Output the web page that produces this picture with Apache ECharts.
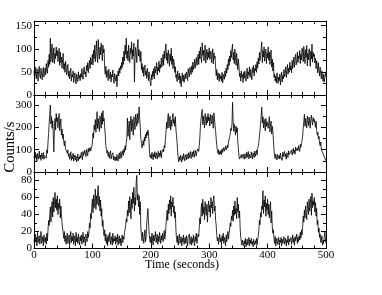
<!DOCTYPE html>
<html><head><meta charset="utf-8">
<script src="https://cdn.jsdelivr.net/npm/echarts@6/dist/echarts.min.js"></script>
<style>html,body{margin:0;padding:0;background:#fff}#c{width:382px;height:295px}</style>
</head><body><div id="c"></div>
<script>
// sampling step of the light curves (seconds)
const timeStep = 1;
const xTicks = [0, 100, 200, 300, 400, 500];
const yTicks1 = [0, 50, 100, 150];
const yTicks2 = [0, 100, 200, 300];
const yTicks3 = [0, 20, 40, 60, 80];
const xTitle = "Time (seconds)";
const yTitle = "Counts/s";

// panel 1 (top)
const counts1 = [
52,38,61,44,35,57,49,30,55,62,41,36,58,47,33,51,60,39,46,58,
44,68,52,47,75,60,88,66,123,72,95,110,70,84,102,68,90,79,104,85,
96,72,88,101,64,93,70,82,58,77,90,55,68,49,73,62,44,58,66,40,
52,35,47,58,30,44,39,52,27,41,48,33,24,45,37,29,50,36,42,31,
46,38,57,42,34,55,61,45,50,39,64,53,70,48,62,75,57,81,66,72,
88,65,96,79,108,72,90,117,84,70,120,92,78,103,87,112,96,74,108,91,
99,58,45,62,38,53,47,31,56,42,35,50,28,44,39,54,33,25,46,37,
30,44,18,39,52,41,58,47,63,55,70,59,82,66,95,74,108,88,123,79,
95,74,108,86,70,101,90,115,77,98,84,112,28,79,103,92,70,106,120,84,
98,81,72,94,55,68,48,61,40,57,65,43,52,36,58,45,31,50,38,27,
20,44,33,51,40,57,35,62,48,55,70,43,60,52,73,49,66,58,80,61,
72,88,64,95,79,102,110,75,91,68,97,83,62,89,74,101,66,84,57,78,
70,49,61,38,44,29,52,40,33,47,25,41,18,36,48,30,43,27,39,46,
35,50,42,31,57,46,39,60,52,44,63,49,71,55,62,77,58,69,81,64,
72,88,66,95,78,104,83,70,113,86,97,74,90,108,69,85,99,76,93,81,
102,77,88,95,70,86,100,67,91,79,84,60,42,55,33,48,40,29,46,35,
41,30,49,26,38,45,34,52,40,58,47,66,55,78,63,84,72,96,81,100,
110,76,92,68,99,81,64,90,72,55,78,61,40,47,30,52,38,44,27,49,
36,52,41,30,47,58,35,50,43,61,38,55,46,33,59,48,64,41,57,52,
66,49,72,58,80,67,92,74,85,101,115,70,96,82,104,73,88,99,68,91,
80,104,75,93,66,87,97,60,78,52,70,38,45,30,41,26,48,33,25,39,
31,45,22,37,50,28,42,35,55,40,47,61,38,53,66,45,58,49,71,54,
63,48,75,57,69,82,60,77,88,65,72,93,70,84,79,96,68,89,76,101,
95,72,105,84,68,98,81,107,63,90,76,100,86,62,95,78,110,71,92,83,
88,69,79,57,74,62,48,70,53,41,60,47,35,52,39,30,45,28,37,50,
40];

// panel 2 (middle)
const counts2 = [
72,55,90,61,78,48,83,67,58,94,63,76,52,85,70,60,88,57,74,66,
81,62,99,84,135,172,220,258,300,215,248,196,230,170,90,205,240,188,262,226,
244,198,230,262,185,215,238,165,192,150,170,132,118,140,104,96,112,84,99,70,
82,57,68,91,52,73,60,84,48,66,77,55,70,45,62,81,50,67,58,74,
63,88,70,55,92,74,66,97,80,69,101,85,73,106,90,82,110,94,88,115,
130,175,152,210,190,235,178,220,270,195,240,208,182,252,226,196,265,214,275,228,
240,198,170,118,102,84,97,70,88,62,79,95,58,74,66,86,55,71,63,50,
67,52,78,60,49,73,86,58,70,92,64,81,96,75,104,88,118,99,132,150,
242,160,195,228,145,210,250,182,236,200,165,248,220,190,258,232,205,262,218,245,
292,235,198,150,128,108,125,141,119,156,138,170,152,180,164,188,176,130,80,65,
78,60,88,70,55,82,67,91,61,74,86,58,79,93,66,84,72,97,63,88,
80,102,91,118,108,145,176,222,195,240,262,198,225,250,188,232,205,246,262,218,
236,205,248,190,165,132,90,58,46,68,52,75,60,44,71,56,82,63,50,77,
66,54,81,70,58,87,64,76,92,60,73,89,68,95,78,66,98,84,72,93,
88,104,92,120,156,205,238,260,280,212,250,226,198,262,238,210,248,220,262,230,
245,206,258,232,215,255,228,196,265,240,210,182,150,118,96,84,100,76,92,81,
96,78,104,88,82,110,93,86,115,99,92,120,108,135,128,158,170,195,186,215,
312,228,182,214,196,165,205,178,198,132,106,72,58,66,50,78,62,54,80,68,
57,82,70,61,88,66,74,92,59,78,84,63,90,72,58,86,76,65,94,70,
83,98,76,105,114,132,160,185,215,250,290,220,248,198,236,212,185,240,205,226,
230,196,220,248,180,212,228,170,205,186,140,98,72,60,80,66,54,78,70,61,
75,58,84,66,72,52,88,70,63,92,68,80,57,86,74,65,95,78,70,89,
82,98,76,92,106,84,99,80,112,95,88,108,96,118,102,92,124,110,128,140,
160,195,225,258,205,240,222,198,250,232,208,246,218,196,240,255,228,210,244,226,
236,218,200,228,190,165,178,148,160,128,118,135,102,110,88,96,76,84,62,70,
50];

// panel 3 (bottom)
const counts3 = [
11,4,17,8,13,3,19,7,10,15,5,12,20,6,9,14,3,16,10,7,
13,5,18,9,22,33,27,40,49,31,46,55,37,60,43,52,66,48,58,45,
62,40,53,47,58,36,50,41,30,24,19,12,20,8,15,5,13,18,6,11,
16,4,12,20,7,14,9,18,5,11,15,3,19,8,13,6,17,10,4,14,
9,16,5,12,19,7,14,10,3,17,12,8,20,13,18,30,24,41,35,50,
58,42,63,48,55,70,46,62,52,68,74,50,61,44,57,38,47,26,33,20,
15,22,9,17,6,13,3,16,8,11,19,5,10,14,4,18,7,12,9,15,
5,13,8,17,4,10,15,6,12,3,9,16,7,14,11,19,22,28,35,31,
45,38,56,42,61,50,35,58,47,66,53,72,44,60,51,78,86,57,64,49,
62,40,55,24,16,9,19,12,6,15,22,8,13,29,38,47,33,18,11,7,
14,6,18,10,4,16,9,13,20,7,11,17,5,14,8,19,12,6,15,10,
18,8,13,21,11,16,28,37,45,33,52,41,57,46,62,38,55,49,60,42,
50,36,43,22,12,7,15,4,11,17,6,9,14,3,12,8,16,5,10,13,
6,15,9,3,13,11,17,5,8,14,4,12,7,16,10,3,14,9,18,6,
11,17,14,25,36,29,44,53,38,58,41,49,34,55,45,39,52,31,47,56,
43,51,37,60,48,55,41,58,62,44,50,33,27,15,9,13,5,11,17,8,
12,4,15,9,18,6,13,10,3,16,8,14,20,11,17,23,30,26,38,34,
45,32,50,39,56,41,47,35,60,43,52,36,44,24,13,8,4,10,6,3,
9,5,12,2,8,11,4,7,13,3,10,6,12,5,8,2,11,7,4,9,
6,12,4,10,15,21,33,28,42,37,50,46,68,41,57,49,62,38,53,45,
58,40,52,36,47,55,30,44,26,18,22,11,6,14,3,9,12,5,8,13,
4,10,7,13,3,11,6,9,14,5,8,12,3,10,7,15,4,11,8,6,
13,5,10,16,7,12,4,14,9,11,17,6,13,8,15,10,19,12,22,16,
25,38,31,45,36,50,42,34,55,47,40,58,44,52,61,39,65,48,56,51,
60,43,54,38,47,28,33,19,24,13,17,7,10,15,4,9,6,14,20,12,
6];

const FONT = "'Liberation Serif','DejaVu Serif',serif";
const pairs = arr => arr.map((v, i) => [i * timeStep, v]);

const grids = [
  {left: 34, width: 292, top: 21, height: 74},
  {left: 34, width: 292, top: 95, height: 77},
  {left: 34, width: 292, top: 172, height: 76.5}
];
const yConf = [
  {max: 160, interval: yTicks1[1] - yTicks1[0], minor: 2},
  {max: 345, interval: yTicks2[1] - yTicks2[0], minor: 2},
  {max: 90, interval: yTicks3[1] - yTicks3[0], minor: 2}
];

const xAxes = [], yAxes = [];
for (let g = 0; g < 3; g++) {
  ['bottom', 'top'].forEach(pos => {
    xAxes.push({
      type: 'value', gridIndex: g, position: pos, min: xTicks[0], max: xTicks[xTicks.length - 1],
      interval: xTicks[1] - xTicks[0],
      axisLine: {show: true, onZero: false, lineStyle: {color: '#000', width: 1}},
      axisTick: {show: true, inside: true, length: 5, lineStyle: {color: '#000'}},
      minorTick: {show: true, splitNumber: 5, length: 3, lineStyle: {color: '#000'}},
      splitLine: {show: false},
      axisLabel: {show: g === 2 && pos === 'bottom', color: '#000', fontFamily: FONT, fontSize: 11, margin: 1}
    });
  });
  ['left', 'right'].forEach(pos => {
    yAxes.push({
      type: 'value', gridIndex: g, position: pos, min: 0, max: yConf[g].max, interval: yConf[g].interval,
      axisLine: {show: true, onZero: false, lineStyle: {color: '#000', width: 1}},
      axisTick: {show: true, inside: true, length: 5, lineStyle: {color: '#000'}},
      minorTick: {show: true, splitNumber: yConf[g].minor, length: 3, lineStyle: {color: '#000'}},
      splitLine: {show: false},
      axisLabel: {show: pos === 'left', showMaxLabel: false, color: '#000', fontFamily: FONT, fontSize: 11, margin: 2}
    });
  });
}

const seriesData = [counts1, counts2, counts3];
const series = seriesData.map((d, g) => ({
  type: 'line', xAxisIndex: g * 2, yAxisIndex: g * 2, data: pairs(d),
  showSymbol: false, symbol: 'none', lineStyle: {color: '#000', width: 0.8}, silent: true
}));

const chart = echarts.init(document.getElementById('c'), null, {renderer: 'canvas'});
chart.setOption({
  animation: false,
  backgroundColor: '#fff',
  grid: grids,
  xAxis: xAxes,
  yAxis: yAxes,
  series: series,
  graphic: [
    {type: 'text', left: 145, top: 259, style: {text: xTitle, font: "12px " + FONT, fill: '#000'}},
    {type: 'text', x: 10, y: 147, rotation: Math.PI / 2, style: {text: yTitle, font: "14.5px " + FONT, fill: '#000', align: 'center', verticalAlign: 'middle'}}
  ]
});
</script></body></html>
